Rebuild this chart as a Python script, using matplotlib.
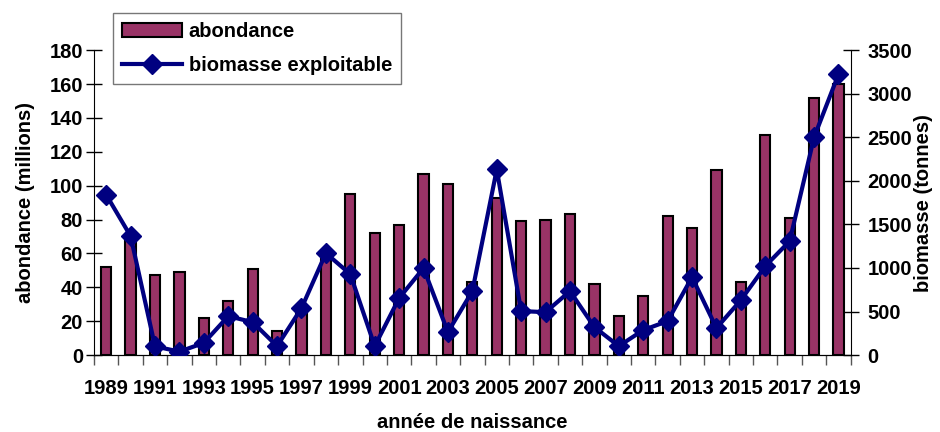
import matplotlib
matplotlib.use("Agg")
import matplotlib.pyplot as plt
import numpy as np

plt.rcParams['font.family'] = ['Liberation Sans', 'DejaVu Sans']
plt.rcParams['font.weight'] = 'bold'

years = list(range(1989, 2020))
abondance = [52, 71, 47, 49, 22, 32, 51, 14, 24, 57, 95, 72, 77, 107, 101, 43,
             93, 79, 80, 83, 42, 23, 35, 82, 75, 109, 43, 130, 81, 152, 160]
biomasse = [1840, 1365, 100, 40, 140, 447, 378, 103, 539, 1170, 929, 103, 654, 998,
            264, 734, 2130, 505, 493, 734, 321, 103, 287, 390, 895, 310, 631, 1021,
            1308, 2500, 3223]

bar_color = '#993366'
line_color = '#000080'
FS = 14.5

fig = plt.figure(figsize=(9.4, 4.32), dpi=100)
ax = fig.add_axes([0.1, 0.178, 0.805, 0.706])
x = np.arange(len(years))
bars = ax.bar(x, abondance, width=0.42, color=bar_color, edgecolor='black',
              linewidth=1.5, label='abondance', zorder=2)
ax.set_xlim(-0.5, len(years) - 0.5)
ax.set_ylim(0, 180)
ax.set_yticks(np.arange(0, 181, 20))
ax.tick_params(axis='y', direction='inout', length=12, width=1, labelsize=FS, pad=2)
ax.set_xticks(x[::2])
ax.set_xticklabels([str(y) for y in years[::2]], fontsize=FS)
ax.set_xticks(np.arange(-0.5, len(years), 1), minor=True)
ax.tick_params(axis='x', which='major', length=0, pad=17)
ax.tick_params(axis='x', which='minor', direction='out', length=7, width=1, color='#555555')
ax.spines['top'].set_visible(False)
ax.spines['right'].set_visible(False)
ax.set_ylabel('abondance (millions)', fontsize=FS, fontweight='bold', labelpad=10)
ax.set_xlabel('année de naissance', fontsize=FS, fontweight='bold', labelpad=11)

ax2 = ax.twinx()
line, = ax2.plot(x, biomasse, color=line_color, linewidth=3, marker='D',
                 markersize=10, label='biomasse exploitable', zorder=3)
ax2.set_ylim(0, 3500)
ax2.set_yticks(np.arange(0, 3501, 500))
ax2.tick_params(axis='y', direction='inout', length=12, width=1, labelsize=FS, pad=6)
ax2.spines['top'].set_visible(False)
ax2.spines['left'].set_visible(False)
ax2.set_ylabel('biomasse (tonnes)', fontsize=FS, fontweight='bold', labelpad=1)

for lab in ax.get_yticklabels() + ax2.get_yticklabels() + ax.get_xticklabels():
    lab.set_fontweight('bold')

leg = fig.legend([bars, line], ['abondance', 'biomasse exploitable'],
                 loc='upper left', bbox_to_anchor=(113/940, 1 - 13/432),
                 fontsize=FS, frameon=True, fancybox=False, edgecolor='#555555',
                 handlelength=3.0, borderpad=0.45, labelspacing=0.75,
                 handletextpad=0.3, borderaxespad=0)
leg.get_frame().set_linewidth(1)
for t in leg.get_texts():
    t.set_fontweight('bold')

fig.savefig('out.png', dpi=100)
